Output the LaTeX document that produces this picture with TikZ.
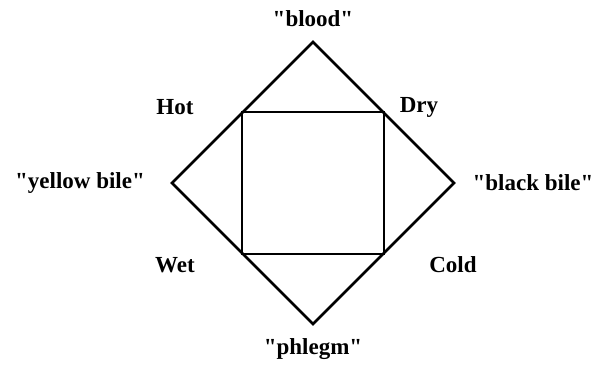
\documentclass[tikz,border=0pt]{standalone}
\usepackage{fontspec}
\setmainfont{Liberation Serif}
\newcommand{\dq}{\textquotedbl}
\tikzset{
  lbl/.style={font=\fontsize{23}{27}\selectfont\bfseries, inner sep=0pt, anchor=center},
  edge/.style={line width=2.8pt, line join=miter, line cap=round}
}
\begin{document}
\begin{tikzpicture}[x=1pt,y=-1pt]
\useasboundingbox (0,0) rectangle (594,364);
\coordinate (T) at (313,42);
\coordinate (L) at (172,183);
\coordinate (R) at (454,183);
\coordinate (B) at (313,324);
\coordinate (HOT) at (242,112);
\coordinate (DRY) at (384,112);
\coordinate (COLD) at (384,254);
\coordinate (WET) at (242,254);
\draw[edge] (T) -- (R) -- (B) -- (L) -- cycle;
\draw[edge] (HOT) -- (DRY) -- (COLD) -- (WET) -- cycle;
\node[lbl] (blood) at (313,19) {\dq blood\dq};
\node[lbl] (hot) at (175,107) {Hot};
\node[lbl] (dry) at (419,107) {Dry};
\node[lbl] (yb) at (80,183) {\dq yellow bile\dq};
\node[lbl] (bb) at (533,183) {\dq black bile\dq};
\node[lbl] (wet) at (175,265) {Wet};
\node[lbl] (cold) at (453,265) {Cold};
\node[lbl] (phlegm) at (313,349) {\dq phlegm\dq};
\end{tikzpicture}
\end{document}
